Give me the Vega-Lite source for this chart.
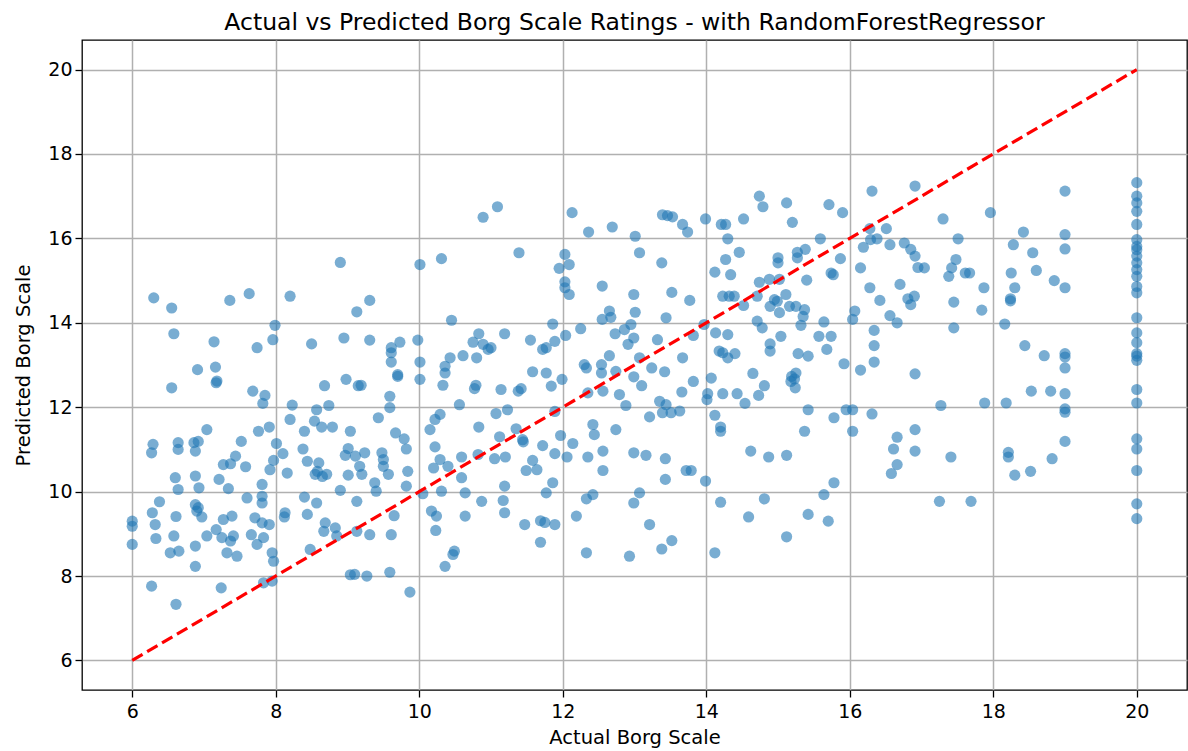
{
  "$schema": "https://vega.github.io/schema/vega-lite/v6.json",
  "width": 1105,
  "height": 650,
  "autosize": {"type": "none"},
  "padding": {"left": 82, "top": 40, "right": 1, "bottom": 61},
  "background": "white",
  "config": {
    "font": "DejaVu Sans",
    "view": {"stroke": "black", "strokeWidth": 1.3},
    "axis": {
      "domain": false,
      "grid": true,
      "gridColor": "#b0b0b0",
      "gridWidth": 1.5,
      "tickColor": "black",
      "tickWidth": 1.3,
      "tickSize": 7,
      "labelPadding": 4,
      "labelFont": "DejaVu Sans",
      "labelFontSize": 19,
      "labelColor": "black",
      "titleFont": "DejaVu Sans",
      "titleFontSize": 19.5,
      "titleFontWeight": "normal",
      "titleColor": "black",
      "format": "d"
    }
  },
  "title": {
    "text": "Actual vs Predicted Borg Scale Ratings - with RandomForestRegressor",
    "font": "DejaVu Sans",
    "fontSize": 23.5,
    "fontWeight": "normal",
    "color": "black",
    "anchor": "middle",
    "frame": "group",
    "offset": 6
  },
  "datasets": {
    "pts": [
      {"a":6.30,"p":14.59},{"a":6.55,"p":14.35},{"a":6.58,"p":13.74},{"a":7.36,"p":14.53},{"a":7.63,"p":14.69},{"a":8.20,"p":14.63},{"a":8.90,"p":15.43},{"a":9.13,"p":14.26},{"a":7.99,"p":13.94},{"a":7.96,"p":13.60},
      {"a":7.14,"p":13.55},{"a":7.74,"p":13.41},{"a":8.50,"p":13.50},{"a":8.95,"p":13.64},{"a":6.91,"p":12.89},{"a":7.16,"p":12.95},{"a":7.17,"p":12.58},{"a":7.18,"p":12.62},{"a":6.55,"p":12.46},{"a":7.68,"p":12.38},
      {"a":7.85,"p":12.28},{"a":7.82,"p":12.09},{"a":8.68,"p":12.51},{"a":8.98,"p":12.66},{"a":9.15,"p":12.51},{"a":8.23,"p":12.05},{"a":8.57,"p":11.94},{"a":8.74,"p":12.04},{"a":8.20,"p":11.71},{"a":8.54,"p":11.67},
      {"a":8.64,"p":11.53},{"a":8.79,"p":11.53},{"a":9.04,"p":11.43},{"a":8.40,"p":11.43},{"a":7.04,"p":11.47},{"a":7.76,"p":11.43},{"a":7.91,"p":11.53},{"a":7.52,"p":11.19},{"a":6.29,"p":11.12},{"a":6.27,"p":10.92},
      {"a":6.64,"p":11.16},{"a":6.64,"p":11.00},{"a":6.86,"p":11.16},{"a":6.92,"p":11.19},{"a":6.88,"p":10.96},{"a":8.01,"p":11.14},{"a":8.10,"p":10.90},{"a":8.38,"p":11.01},{"a":7.44,"p":10.84},{"a":7.27,"p":10.64},
      {"a":7.37,"p":10.66},{"a":7.58,"p":10.59},{"a":7.97,"p":10.74},{"a":7.92,"p":10.52},{"a":8.16,"p":10.44},{"a":8.44,"p":10.72},{"a":8.60,"p":10.68},{"a":8.55,"p":10.41},{"a":8.71,"p":10.41},{"a":9.01,"p":11.02},
      {"a":8.97,"p":10.86},{"a":9.11,"p":10.84},{"a":9.01,"p":10.39},{"a":6.60,"p":10.33},{"a":6.88,"p":10.37},{"a":7.21,"p":10.29},{"a":8.58,"p":10.48},{"a":8.65,"p":10.36},
      {"a":6.64,"p":10.05},{"a":6.93,"p":10.09},{"a":7.34,"p":10.07},{"a":7.81,"p":10.17},{"a":8.90,"p":10.03},{"a":9.13,"p":9.77},{"a":6.38,"p":9.76},{"a":6.28,"p":9.50},{"a":6.32,"p":9.22},{"a":6.00,"p":9.30},
      {"a":6.00,"p":9.18},{"a":6.00,"p":8.75},{"a":6.33,"p":8.89},{"a":6.27,"p":7.76},{"a":6.61,"p":9.41},{"a":6.58,"p":8.95},{"a":6.53,"p":8.55},{"a":6.65,"p":8.59},{"a":6.61,"p":7.33},{"a":6.88,"p":9.69},
      {"a":6.90,"p":9.54},{"a":6.97,"p":9.40},{"a":6.88,"p":8.71},{"a":6.88,"p":8.23},{"a":7.04,"p":8.95},{"a":7.17,"p":9.10},{"a":7.27,"p":9.34},{"a":7.39,"p":9.42},{"a":7.25,"p":8.91},{"a":7.37,"p":8.83},
      {"a":7.41,"p":8.95},{"a":7.32,"p":8.55},{"a":7.46,"p":8.47},{"a":7.24,"p":7.72},{"a":7.60,"p":9.85},{"a":7.81,"p":9.89},{"a":7.81,"p":9.73},{"a":7.71,"p":9.38},{"a":7.81,"p":9.26},{"a":7.91,"p":9.22},
      {"a":7.66,"p":8.98},{"a":7.83,"p":8.91},{"a":7.74,"p":8.75},{"a":7.95,"p":8.55},{"a":7.97,"p":8.35},{"a":7.83,"p":7.84},{"a":7.95,"p":7.88},{"a":8.13,"p":9.50},{"a":8.12,"p":9.40},{"a":8.40,"p":9.87},
      {"a":8.57,"p":9.73},{"a":8.44,"p":9.46},{"a":8.69,"p":9.26},{"a":8.67,"p":9.06},{"a":8.83,"p":9.14},{"a":8.85,"p":8.95},{"a":9.13,"p":9.06},{"a":8.48,"p":8.63},{"a":9.04,"p":8.03},{"a":6.92,"p":9.62},
      {"a":10.89,"p":16.50},{"a":11.09,"p":16.75},{"a":12.13,"p":16.61},{"a":12.36,"p":16.15},{"a":12.69,"p":16.27},{"a":13.01,"p":16.05},{"a":13.07,"p":15.66},{"a":10.01,"p":15.38},{"a":10.31,"p":15.52},{"a":11.39,"p":15.66},
      {"a":12.03,"p":15.62},{"a":11.95,"p":15.29},{"a":12.09,"p":15.38},{"a":12.03,"p":14.97},{"a":12.03,"p":14.83},{"a":12.09,"p":14.67},{"a":12.55,"p":14.87},{"a":12.99,"p":14.67},{"a":9.31,"p":14.53},{"a":10.45,"p":14.06},
      {"a":12.65,"p":14.28},{"a":12.55,"p":14.08},{"a":12.67,"p":14.13},{"a":13.01,"p":14.25},{"a":11.86,"p":13.97},{"a":12.25,"p":13.86},{"a":12.04,"p":13.70},{"a":12.73,"p":13.74},{"a":12.86,"p":13.84},{"a":12.95,"p":13.96},
      {"a":12.99,"p":13.64},{"a":12.91,"p":13.49},{"a":9.31,"p":13.59},{"a":9.73,"p":13.54},{"a":9.98,"p":13.59},{"a":9.61,"p":13.41},{"a":10.83,"p":13.74},{"a":10.75,"p":13.54},{"a":10.89,"p":13.49},{"a":11.00,"p":13.41},
      {"a":11.19,"p":13.74},{"a":11.55,"p":13.59},{"a":11.89,"p":13.56},{"a":11.77,"p":13.41},
      {"a":9.61,"p":13.29},{"a":9.61,"p":13.07},{"a":9.70,"p":12.77},{"a":9.70,"p":12.73},{"a":10.01,"p":13.07},{"a":10.01,"p":12.66},{"a":9.19,"p":12.52},{"a":10.43,"p":13.17},{"a":10.36,"p":12.97},{"a":10.36,"p":12.81},
      {"a":10.61,"p":13.22},{"a":10.80,"p":13.17},{"a":10.96,"p":13.37},{"a":10.33,"p":12.52},{"a":10.79,"p":12.52},{"a":10.77,"p":12.44},{"a":11.14,"p":12.42},{"a":11.38,"p":12.38},{"a":11.42,"p":12.44},{"a":11.58,"p":12.84},
      {"a":11.77,"p":12.81},{"a":11.84,"p":12.50},{"a":11.99,"p":12.66},{"a":11.72,"p":13.37},{"a":12.30,"p":13.01},{"a":12.33,"p":12.93},{"a":12.54,"p":13.01},{"a":12.54,"p":12.81},{"a":12.65,"p":13.22},{"a":12.74,"p":12.85},
      {"a":12.56,"p":12.38},{"a":12.35,"p":12.34},{"a":12.79,"p":12.30},{"a":12.88,"p":12.04},{"a":12.99,"p":12.72},{"a":13.07,"p":13.17},{"a":9.59,"p":12.26},{"a":9.59,"p":11.99},{"a":9.43,"p":11.75},{"a":10.56,"p":12.06},
      {"a":11.07,"p":11.85},{"a":11.23,"p":11.94},{"a":11.89,"p":11.90},{"a":10.29,"p":11.83},{"a":10.22,"p":11.71},{"a":10.15,"p":11.47},{"a":9.67,"p":11.39},{"a":9.79,"p":11.25},{"a":9.82,"p":11.01},{"a":10.83,"p":11.53},
      {"a":11.12,"p":11.30},{"a":11.35,"p":11.49},{"a":11.44,"p":11.23},{"a":11.45,"p":11.18},{"a":11.72,"p":11.09},{"a":11.97,"p":11.33},{"a":12.14,"p":11.14},{"a":11.89,"p":10.90},{"a":12.06,"p":10.82},{"a":12.42,"p":11.59},
      {"a":12.44,"p":11.35},{"a":12.74,"p":11.47},{"a":12.56,"p":10.96},{"a":12.35,"p":10.82},{"a":12.56,"p":10.50},{"a":12.99,"p":10.92},{"a":10.22,"p":11.06},{"a":10.29,"p":10.76},{"a":10.20,"p":10.56},{"a":10.40,"p":10.60},
      {"a":10.59,"p":10.82},{"a":10.82,"p":10.88},{"a":11.05,"p":10.78},{"a":11.20,"p":10.82},{"a":11.58,"p":10.74},{"a":11.49,"p":10.50},{"a":11.64,"p":10.52},{"a":10.59,"p":10.33},{"a":11.19,"p":10.13},{"a":11.86,"p":10.21},
      {"a":11.77,"p":9.97},{"a":12.42,"p":9.93},{"a":12.33,"p":9.83},{"a":12.99,"p":9.73},{"a":9.38,"p":10.21},{"a":9.40,"p":10.01},{"a":9.17,"p":10.60},{"a":9.20,"p":10.41},{"a":9.48,"p":10.92},{"a":9.50,"p":10.76},
      {"a":9.50,"p":10.60},{"a":9.57,"p":10.41},{"a":9.84,"p":10.48},{"a":9.82,"p":10.13},{"a":10.05,"p":9.95},{"a":10.31,"p":10.01},{"a":10.64,"p":9.97},{"a":10.87,"p":9.77},{"a":11.17,"p":9.79},{"a":9.65,"p":9.43},
      {"a":10.17,"p":9.54},{"a":10.24,"p":9.42},{"a":10.64,"p":9.42},{"a":11.19,"p":9.50},{"a":12.19,"p":9.42},{"a":9.24,"p":10.92},
      {"a":9.31,"p":8.98},{"a":9.61,"p":8.98},{"a":9.10,"p":8.04},{"a":9.27,"p":8.00},{"a":9.59,"p":8.09},{"a":9.87,"p":7.62},{"a":10.23,"p":9.08},{"a":11.47,"p":9.22},{"a":11.69,"p":9.31},{"a":11.75,"p":9.27},
      {"a":11.89,"p":9.22},{"a":11.69,"p":8.80},{"a":12.33,"p":8.55},{"a":12.93,"p":8.47},{"a":10.49,"p":8.59},{"a":10.47,"p":8.51},{"a":10.36,"p":8.23},
      {"a":16.31,"p":17.12},{"a":16.91,"p":17.24},{"a":14.74,"p":17.00},{"a":14.79,"p":16.75},{"a":15.12,"p":16.84},{"a":15.71,"p":16.80},{"a":15.90,"p":16.61},{"a":15.20,"p":16.38},{"a":13.39,"p":16.56},{"a":13.46,"p":16.54},
      {"a":13.53,"p":16.51},{"a":13.67,"p":16.33},{"a":13.74,"p":16.15},{"a":13.99,"p":16.46},{"a":14.21,"p":16.33},{"a":14.27,"p":16.33},{"a":14.30,"p":15.99},{"a":14.52,"p":16.46},{"a":13.38,"p":15.42},{"a":14.12,"p":15.20},
      {"a":14.27,"p":15.50},{"a":14.34,"p":15.14},{"a":14.46,"p":15.67},{"a":15.00,"p":15.54},{"a":15.00,"p":15.42},{"a":15.27,"p":15.67},{"a":15.27,"p":15.54},{"a":15.38,"p":15.74},{"a":15.59,"p":15.99},{"a":15.87,"p":15.52},
      {"a":15.74,"p":15.18},{"a":15.77,"p":15.14},{"a":15.40,"p":15.01},{"a":16.28,"p":16.23},{"a":16.51,"p":16.23},{"a":16.19,"p":15.79},{"a":16.29,"p":15.97},{"a":16.38,"p":15.99},{"a":16.56,"p":15.85},{"a":16.76,"p":15.89},
      {"a":16.85,"p":15.74},{"a":16.91,"p":15.58},{"a":16.15,"p":15.30},{"a":16.95,"p":15.31},{"a":14.74,"p":14.96},{"a":14.88,"p":15.03},{"a":15.02,"p":15.03},{"a":13.52,"p":14.72},{"a":13.77,"p":14.53},{"a":14.23,"p":14.63},
      {"a":14.32,"p":14.63},{"a":14.39,"p":14.63},{"a":14.52,"p":14.41},{"a":14.71,"p":14.63},{"a":14.89,"p":14.39},{"a":14.95,"p":14.55},{"a":14.99,"p":14.51},{"a":15.11,"p":14.67},{"a":15.16,"p":14.39},{"a":15.25,"p":14.39},
      {"a":15.37,"p":14.31},{"a":15.35,"p":14.15},{"a":15.02,"p":14.24},{"a":14.71,"p":14.04},{"a":14.78,"p":13.88},{"a":15.32,"p":13.94},{"a":15.64,"p":14.02},{"a":16.07,"p":14.28},{"a":16.04,"p":14.08},{"a":16.28,"p":14.83},
      {"a":16.42,"p":14.53},{"a":16.70,"p":14.91},{"a":16.56,"p":14.17},{"a":16.66,"p":14.00},{"a":16.81,"p":14.57},{"a":16.90,"p":14.63},{"a":16.85,"p":14.43},{"a":16.34,"p":13.82},{"a":13.44,"p":14.12},{"a":14.13,"p":13.76},
      {"a":14.30,"p":13.72},{"a":13.97,"p":13.96},{"a":15.57,"p":13.68},{"a":15.74,"p":13.68},{"a":13.32,"p":13.60},{"a":15.04,"p":13.68},
      {"a":13.67,"p":13.17},{"a":13.82,"p":13.70},{"a":14.18,"p":13.33},{"a":14.23,"p":13.29},{"a":14.30,"p":13.17},{"a":14.40,"p":13.27},{"a":14.89,"p":13.50},{"a":14.89,"p":13.33},{"a":15.28,"p":13.27},{"a":15.42,"p":13.21},
      {"a":15.68,"p":13.37},{"a":15.92,"p":13.03},{"a":16.15,"p":12.88},{"a":16.34,"p":13.46},{"a":16.34,"p":13.07},{"a":16.91,"p":12.79},{"a":13.24,"p":12.93},{"a":13.42,"p":12.84},{"a":13.10,"p":12.51},{"a":13.82,"p":12.61},
      {"a":14.07,"p":12.69},{"a":13.66,"p":12.36},{"a":14.02,"p":12.32},{"a":14.01,"p":12.18},{"a":14.23,"p":12.32},{"a":14.43,"p":12.32},{"a":14.54,"p":12.09},{"a":14.65,"p":12.80},{"a":14.81,"p":12.51},{"a":14.73,"p":12.28},
      {"a":15.19,"p":12.73},{"a":15.23,"p":12.67},{"a":15.25,"p":12.81},{"a":15.18,"p":12.61},{"a":15.24,"p":12.46},{"a":13.35,"p":12.14},{"a":13.44,"p":12.06},{"a":13.39,"p":11.87},{"a":13.51,"p":11.87},{"a":13.63,"p":11.91},
      {"a":13.21,"p":11.77},{"a":14.12,"p":11.81},{"a":14.20,"p":11.53},{"a":14.20,"p":11.43},{"a":15.42,"p":11.94},{"a":15.78,"p":11.75},{"a":15.95,"p":11.94},{"a":16.04,"p":11.94},{"a":16.31,"p":11.84},{"a":16.04,"p":11.43},
      {"a":15.37,"p":11.43},{"a":16.91,"p":11.47},{"a":16.66,"p":11.29},{"a":16.61,"p":11.01},{"a":16.91,"p":10.96},{"a":16.66,"p":10.64},{"a":16.58,"p":10.43},{"a":14.62,"p":10.96},{"a":14.87,"p":10.82},{"a":15.12,"p":10.86},
      {"a":13.16,"p":10.86},{"a":13.43,"p":10.78},{"a":13.72,"p":10.50},{"a":13.79,"p":10.50},{"a":13.43,"p":10.29},{"a":13.99,"p":10.25},{"a":15.78,"p":10.21},{"a":15.64,"p":9.93},{"a":14.81,"p":9.83},{"a":14.20,"p":9.75},
      {"a":13.07,"p":9.97},{"a":13.21,"p":9.22},{"a":13.52,"p":8.84},{"a":13.38,"p":8.64},{"a":14.59,"p":9.40},{"a":15.70,"p":9.30},{"a":15.12,"p":8.93},{"a":14.12,"p":8.55},{"a":15.42,"p":9.46},
      {"a":17.30,"p":16.46},{"a":17.96,"p":16.61},{"a":19.0,"p":17.12},{"a":17.51,"p":15.99},{"a":17.04,"p":15.30},{"a":17.48,"p":15.50},{"a":17.42,"p":15.30},{"a":17.38,"p":15.10},{"a":17.61,"p":15.18},{"a":17.67,"p":15.18},
      {"a":17.87,"p":14.83},{"a":17.45,"p":14.49},{"a":17.84,"p":14.30},{"a":17.45,"p":13.88},{"a":18.16,"p":13.97},{"a":18.42,"p":16.15},{"a":18.28,"p":15.85},{"a":18.55,"p":15.66},{"a":19.0,"p":16.09},{"a":19.0,"p":15.75},
      {"a":18.25,"p":15.18},{"a":18.60,"p":15.24},{"a":18.30,"p":14.83},{"a":18.24,"p":14.57},{"a":18.24,"p":14.52},{"a":18.85,"p":15.00},{"a":19.0,"p":14.83},
      {"a":18.44,"p":13.46},{"a":18.71,"p":13.22},{"a":19.0,"p":13.27},{"a":19.0,"p":13.19},{"a":19.0,"p":12.93},{"a":18.53,"p":12.38},{"a":18.80,"p":12.38},{"a":19.0,"p":12.32},{"a":19.0,"p":11.96},{"a":19.0,"p":11.88},
      {"a":17.27,"p":12.04},{"a":17.88,"p":12.10},{"a":18.18,"p":12.10},{"a":17.41,"p":10.82},{"a":18.21,"p":10.93},{"a":18.21,"p":10.82},{"a":18.30,"p":10.39},{"a":18.52,"p":10.48},{"a":18.82,"p":10.78},{"a":19.0,"p":11.19},
      {"a":17.25,"p":9.77},{"a":17.69,"p":9.77},
      {"a":20,"p":17.32},{"a":20,"p":17.00},{"a":20,"p":16.84},{"a":20,"p":16.64},{"a":20,"p":16.33},{"a":20,"p":15.97},{"a":20,"p":15.81},{"a":20,"p":15.73},{"a":20,"p":15.58},{"a":20,"p":15.42},
      {"a":20,"p":15.26},{"a":20,"p":15.10},{"a":20,"p":14.86},{"a":20,"p":14.71},{"a":20,"p":14.12},{"a":20,"p":13.76},{"a":20,"p":13.53},{"a":20,"p":13.27},{"a":20,"p":13.21},{"a":20,"p":13.11},
      {"a":20,"p":12.42},{"a":20,"p":12.10},{"a":20,"p":11.25},{"a":20,"p":11.01},{"a":20,"p":10.50},{"a":20,"p":9.71},{"a":20,"p":9.36}
    ],
    "ref": [{"a": 6, "p": 6}, {"a": 20, "p": 20}]
  },
  "layer": [
    {
      "data": {"name": "pts"},
      "mark": {"type": "point", "filled": true, "shape": "circle", "size": 125, "color": "#1f77b4", "opacity": 0.6, "strokeWidth": 0},
      "encoding": {
        "x": {"field": "a", "type": "quantitative", "title": "Actual Borg Scale",
              "scale": {"domain": [5.3, 20.7], "nice": false, "zero": false},
              "axis": {"values": [6, 8, 10, 12, 14, 16, 18, 20], "labelPadding": 5, "titlePadding": 7}},
        "y": {"field": "p", "type": "quantitative", "title": "Predicted Borg Scale",
              "scale": {"domain": [5.3, 20.7], "nice": false, "zero": false},
              "axis": {"values": [6, 8, 10, 12, 14, 16, 18, 20], "labelPadding": 3, "titlePadding": 14}}
      }
    },
    {
      "data": {"name": "ref"},
      "mark": {"type": "line", "color": "red", "strokeWidth": 3.2, "strokeDash": [12, 5.3]},
      "encoding": {
        "x": {"field": "a", "type": "quantitative"},
        "y": {"field": "p", "type": "quantitative"}
      }
    }
  ]
}
